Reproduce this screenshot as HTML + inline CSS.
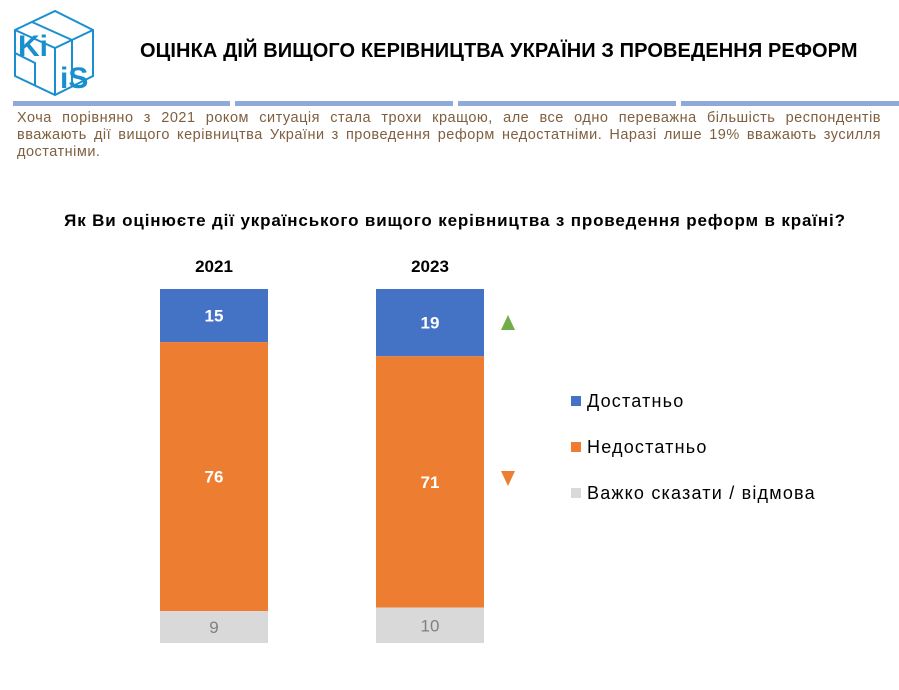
<!DOCTYPE html>
<html><head><meta charset="utf-8"><style>
body{margin:0;width:899px;height:690px;background:#fff;font-family:"Liberation Sans",sans-serif;position:relative;overflow:hidden}
.abs{position:absolute}
.jl{text-align:justify;text-align-last:justify;white-space:nowrap;display:block}
</style></head><body>
<svg class="abs" style="left:10px;top:8px" width="90" height="90" viewBox="0 0 90 90">
<g fill="none" stroke="#1a8fd0" stroke-width="2">
<polygon points="5,22 45,3 83,22 83,68 45,87 5,68"/>
<polyline points="5,22 45,40 83,22"/><line x1="45" y1="40" x2="45" y2="87"/>
<polyline points="22,14 62,32 62,78"/><polyline points="5,45 25,55 25,77"/>
</g>
<text x="8" y="48" font-family="Liberation Sans" font-weight="bold" font-size="30" fill="#1a8fd0">Ki</text>
<text x="50" y="80" font-family="Liberation Sans" font-weight="bold" font-size="30" fill="#1a8fd0">iS</text>
</svg>
<div class="abs" style="left:140px;top:40px;font-size:20px;font-weight:bold;color:#000;letter-spacing:0.1px">ОЦІНКА ДІЙ ВИЩОГО КЕРІВНИЦТВА УКРАЇНИ З ПРОВЕДЕННЯ РЕФОРМ</div>
<div class="abs" style="left:13px;top:101px;width:886px;height:5px">
<div class="abs" style="left:0;width:217px;height:5px;background:#8eaadb"></div>
<div class="abs" style="left:222px;width:218px;height:5px;background:#8eaadb"></div>
<div class="abs" style="left:445px;width:218px;height:5px;background:#8eaadb"></div>
<div class="abs" style="left:668px;width:218px;height:5px;background:#8eaadb"></div>
</div>
<div class="abs" style="left:17px;top:110px;width:864px;font-size:14.5px;letter-spacing:0.5px;line-height:17px;color:#7f5f3f">
<span class="jl">Хоча порівняно з 2021 роком ситуація стала трохи кращою, але все одно переважна більшість респондентів</span>
<span class="jl">вважають дії вищого керівництва України з проведення реформ недостатніми. Наразі лише 19% вважають зусилля</span>
<span style="display:block">достатніми.</span></div>
<div class="abs" style="left:0;width:910px;top:211px;text-align:center;font-size:17px;letter-spacing:0.85px;font-weight:bold;color:#000">Як Ви оцінюєте дії українського вищого керівництва з проведення реформ в країні?</div>
<svg class="abs" id="chart" style="left:0;top:0" width="899" height="690"></svg>
<script>
const years=["2021","2023"];
const enough=[15,19];
const notEnough=[76,71];
const hard=[9,10];
const seriesNames=["Достатньо","Недостатньо","Важко сказати / відмова"];
const colors=["#4472c4","#ed7d31","#d9d9d9"];
const labelColors=["#fff","#fff","#808080"];
const svg=document.getElementById('chart');
const NS="http://www.w3.org/2000/svg";
const top0=289,bottom0=643,barW=108;
const xPos=i=>160+i*216;
const y=v=>top0+(bottom0-top0)*v/100;
function mk(t,a){const e=document.createElementNS(NS,t);for(const k in a)e.setAttribute(k,a[k]);svg.appendChild(e);return e;}
const series=[enough,notEnough,hard];
years.forEach((yr,i)=>{
  const total=enough[i]+notEnough[i]+hard[i];
  const t=mk('text',{x:xPos(i)+barW/2,y:272,'text-anchor':'middle','font-size':17,'font-weight':'bold','font-family':'Liberation Sans',fill:'#000'});
  
  
  t.textContent=yr;
  let acc=0;
  series.forEach((s,k)=>{
    const y1=y(acc/total*100),y2=y((acc+s[i])/total*100);acc+=s[i];
    const r=mk('rect',{x:xPos(i),y:y1,width:barW,height:y2-y1,fill:colors[k]});
    
    
    const l=mk('text',{x:xPos(i)+barW/2,y:(y1+y2)/2+6,'text-anchor':'middle','font-size':17,'font-weight':k<2?'bold':'normal','font-family':'Liberation Sans',fill:labelColors[k]});
    
    
    l.textContent=s[i];
  });
});
const up=mk('polygon',{points:'501,330 508,315 515,330',fill:'#70ad47'});


const dn=mk('polygon',{points:'501,471 515,471 508,486',fill:'#ed7d31'});


seriesNames.forEach((n,k)=>{
  const yy=401+k*46;
  const r=mk('rect',{x:571,y:yy-5,width:10,height:10,fill:colors[k]});
  
  
  const t=mk('text',{x:587,y:yy+6,'font-size':18,'letter-spacing':'1.2','font-family':'Liberation Sans',fill:'#000'});
  
  
  t.textContent=n;
});
</script>
</body></html>
